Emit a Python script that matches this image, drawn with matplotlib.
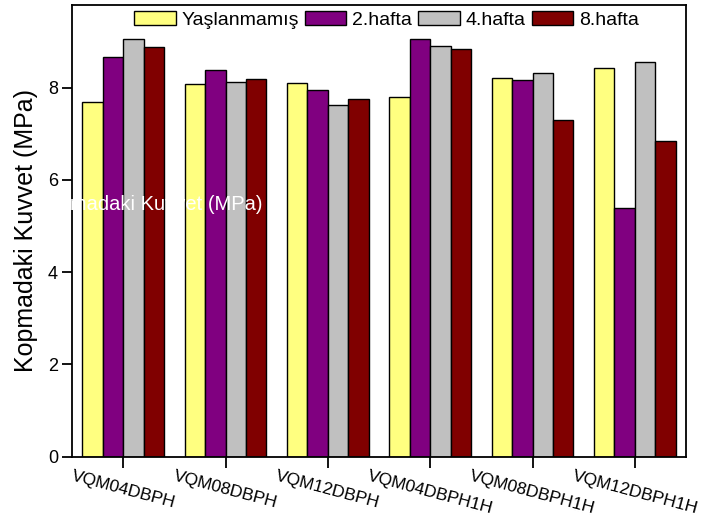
import matplotlib
matplotlib.use("Agg")
import matplotlib.pyplot as plt
import numpy as np

plt.rcParams['font.family'] = ['Liberation Sans', 'DejaVu Sans']

categories = ["VQM04DBPH", "VQM08DBPH", "VQM12DBPH", "VQM04DBPH1H", "VQM08DBPH1H", "VQM12DBPH1H"]
series_names = ["Yaşlanmamış", "2.hafta", "4.hafta", "8.hafta"]
yaslanmamis = [7.69, 8.08, 8.10, 7.79, 8.20, 8.42]
hafta2 = [8.67, 8.37, 7.94, 9.05, 8.16, 5.38]
hafta4 = [9.06, 8.13, 7.63, 8.90, 8.31, 8.56]
hafta8 = [8.88, 8.19, 7.75, 8.84, 7.30, 6.85]
colors = ["#FFFF80", "#800080", "#C0C0C0", "#800000"]
y_ticks = [0, 2, 4, 6, 8]

fig = plt.figure(figsize=(7.07, 5.21), dpi=100)
ax = fig.add_axes([72/707, 1-456.5/521, (686-72)/707, (456.5-5)/521])

x = np.arange(1, len(categories) + 1)
w = 0.2
data = [yaslanmamis, hafta2, hafta4, hafta8]
for i, (vals, c, name) in enumerate(zip(data, colors, series_names)):
    ax.bar(x + (i - 1.5) * w, vals, width=w, color=c, edgecolor="black",
           linewidth=1.0, label=name)

ax.set_xlim(0.5, 6.5)
ax.set_ylim(0, 9.79)
ax.set_yticks(y_ticks)
ax.set_xticks(x)
ax.set_xticklabels(categories, rotation=-15, ha="center", va="top", fontsize=12.5)
ax.tick_params(axis="y", direction="out", length=7, width=1.3, labelsize=13, pad=3)
ax.tick_params(axis="x", direction="out", length=8, width=1.3, pad=1)
for s in ax.spines.values():
    s.set_linewidth(1.3)

ax.set_ylabel("Kopmadaki Kuvvet (MPa)", fontsize=18, labelpad=7)

leg = ax.legend(loc="center", ncol=4, frameon=False, fontsize=14,
                handlelength=2.15, handleheight=0.78, handletextpad=0.3,
                columnspacing=0.3, bbox_to_anchor=(0.512, 0.967), borderaxespad=0.0)

fig.text(263/707, 1-205/521, "Kopmadaki Kuvvet (MPa)", color="white",
         fontsize=14.5, ha="right", va="center")

fig.savefig("out.png", dpi=100)
